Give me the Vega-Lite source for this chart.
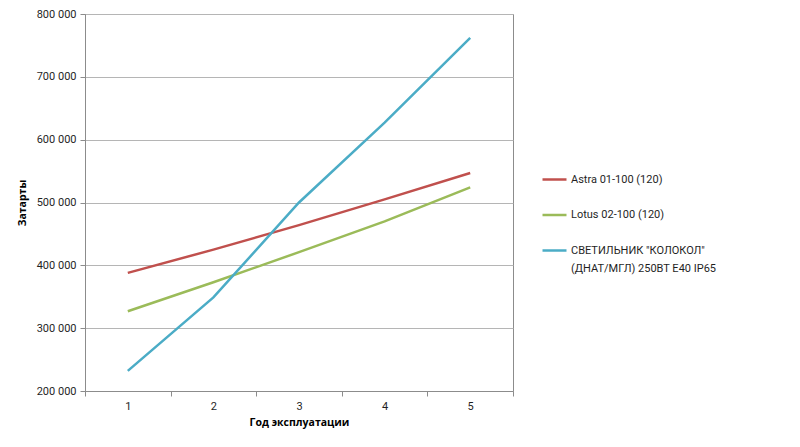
{
  "$schema": "https://vega.github.io/schema/vega-lite/v6.json",
  "width": 428,
  "height": 377,
  "autosize": {"type": "none"},
  "padding": {"left": 85, "top": 14, "right": 287, "bottom": 56},
  "background": "white",
  "data": {
    "values": [
      {"year": 1, "series": "Astra 01-100 (120)", "cost": 388000},
      {"year": 2, "series": "Astra 01-100 (120)", "cost": 425000},
      {"year": 3, "series": "Astra 01-100 (120)", "cost": 464000},
      {"year": 4, "series": "Astra 01-100 (120)", "cost": 505000},
      {"year": 5, "series": "Astra 01-100 (120)", "cost": 547000},
      {"year": 1, "series": "Lotus 02-100 (120)", "cost": 327000},
      {"year": 2, "series": "Lotus 02-100 (120)", "cost": 373000},
      {"year": 3, "series": "Lotus 02-100 (120)", "cost": 421000},
      {"year": 4, "series": "Lotus 02-100 (120)", "cost": 470000},
      {"year": 5, "series": "Lotus 02-100 (120)", "cost": 524000},
      {"year": 1, "series": "СВЕТИЛЬНИК \"КОЛОКОЛ\" (ДНАТ/МГЛ) 250ВТ E40 IP65", "cost": 232000},
      {"year": 2, "series": "СВЕТИЛЬНИК \"КОЛОКОЛ\" (ДНАТ/МГЛ) 250ВТ E40 IP65", "cost": 349000},
      {"year": 3, "series": "СВЕТИЛЬНИК \"КОЛОКОЛ\" (ДНАТ/МГЛ) 250ВТ E40 IP65", "cost": 500000},
      {"year": 4, "series": "СВЕТИЛЬНИК \"КОЛОКОЛ\" (ДНАТ/МГЛ) 250ВТ E40 IP65", "cost": 627000},
      {"year": 5, "series": "СВЕТИЛЬНИК \"КОЛОКОЛ\" (ДНАТ/МГЛ) 250ВТ E40 IP65", "cost": 762000}
    ]
  },
  "mark": {"type": "line", "strokeWidth": 2.5},
  "encoding": {
    "x": {
      "field": "year",
      "type": "ordinal",
      "scale": {"type": "band", "paddingInner": 0, "paddingOuter": 0},
      "axis": {
        "title": "Год эксплуатации",
        "labelAngle": 0,
        "tickBand": "extent",
        "tickSize": 5,
        "labelPadding": 4,
        "titlePadding": 6,
        "grid": false
      }
    },
    "y": {
      "field": "cost",
      "type": "quantitative",
      "scale": {"domain": [200000, 800000], "nice": false, "zero": false},
      "axis": {
        "title": "Затарты",
        "values": [200000, 300000, 400000, 500000, 600000, 700000, 800000],
        "labelExpr": "format(datum.value / 1000, 'd') + ' 000'",
        "tickSize": 5,
        "labelPadding": 4,
        "titlePadding": 9,
        "grid": true
      }
    },
    "color": {
      "field": "series",
      "type": "nominal",
      "scale": {
        "domain": ["Astra 01-100 (120)", "Lotus 02-100 (120)", "СВЕТИЛЬНИК \"КОЛОКОЛ\" (ДНАТ/МГЛ) 250ВТ E40 IP65"],
        "range": ["#C0504D", "#9BBB59", "#4BACC6"]
      },
      "legend": {
        "title": null,
        "orient": "none",
        "legendX": 456,
        "legendY": 152,
        "symbolType": "stroke",
        "symbolSize": 576,
        "symbolStrokeWidth": 2.5,
        "labelOffset": 3,
        "rowPadding": 16.5,
        "labelLimit": 300,
        "labelExpr": "datum.label == 'СВЕТИЛЬНИК \"КОЛОКОЛ\" (ДНАТ/МГЛ) 250ВТ E40 IP65' ? ['СВЕТИЛЬНИК \"КОЛОКОЛ\"', '(ДНАТ/МГЛ) 250ВТ E40 IP65'] : datum.label",
        "encode": {"labels": {"update": {"lineHeight": {"value": 18}}}}
      }
    }
  },
  "config": {
    "font": "Roboto",
    "view": {"stroke": "#8c8c8c", "strokeWidth": 1},
    "axis": {
      "domainColor": "#8c8c8c",
      "tickColor": "#8c8c8c",
      "gridColor": "#b5b5b5",
      "labelFont": "Roboto",
      "labelFontSize": 11,
      "labelColor": "#1f1f1f",
      "titleFont": "Open Sans",
      "titleFontSize": 10.5,
      "titleFontWeight": "bold",
      "titleColor": "#000000"
    },
    "legend": {
      "labelFont": "Roboto",
      "labelFontSize": 11,
      "labelColor": "#1f1f1f"
    }
  }
}
